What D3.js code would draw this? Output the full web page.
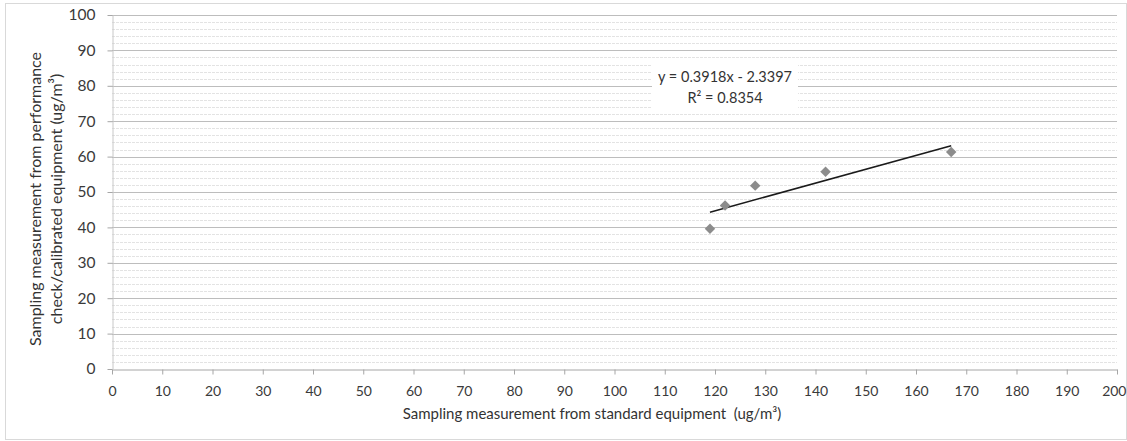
<!DOCTYPE html>
<html><head><meta charset="utf-8">
<script src="https://cdn.jsdelivr.net/npm/d3@7"></script>
<style>
html,body{margin:0;padding:0;background:#fff;}
svg{display:block;font-family:Lato, "Open Sans", sans-serif;}
text{white-space:pre;}
</style></head>
<body>
<svg id="c" width="1127" height="441"></svg>
<script>
const xValues = [119, 122, 128, 142, 167];
const yValues = [39.6, 46.2, 51.8, 55.7, 61.3];
const slope = 0.3918;
const intercept = -2.3397;
const equationText = "y = 0.3918x - 2.3397";
const r2Text = "R² = 0.8354";
const xTicks = d3.range(0, 201, 10);
const yTicks = d3.range(0, 101, 10);
const yMinorTicks = d3.range(0, 101, 2);
const xTitle = "Sampling measurement from standard equipment  (ug/m³)";
const yTitle = ["Sampling measurement from performance", "check/calibrated equipment (ug/m³)"];

const svg = d3.select("#c");
const W = 1127, H = 441;
const m = {left:112, right:1117, top:15, bottom:369};
const x = d3.scaleLinear().domain([0,200]).range([m.left, m.right]);
const y = d3.scaleLinear().domain([0,100]).range([m.bottom, m.top]);

// outer chart border
svg.append("rect").attr("x",5.5).attr("y",3.5).attr("width",W-6).attr("height",H-5)
  .attr("fill","none").attr("stroke","#d9d9d9").attr("stroke-width",1);

// minor gridlines
svg.append("g").selectAll("line").data(yMinorTicks.filter(v=>v%10!==0)).join("line")
  .attr("x1",m.left).attr("x2",m.right).attr("y1",d=>Math.round(y(d))+0.5).attr("y2",d=>Math.round(y(d))+0.5)
  .attr("stroke","#e3e3e3").attr("stroke-width",1).attr("stroke-dasharray","3,1");
// major gridlines
svg.append("g").selectAll("line").data(yTicks.filter(v=>v>0)).join("line")
  .attr("x1",m.left).attr("x2",m.right).attr("y1",d=>Math.round(y(d))+0.5).attr("y2",d=>Math.round(y(d))+0.5)
  .attr("stroke","#bdbdbd").attr("stroke-width",1);

// axes
const xAxis = d3.axisBottom(x).tickValues(xTicks).tickSize(5).tickSizeOuter(0).tickPadding(12);
const gx = svg.append("g").attr("transform",`translate(0,${m.bottom+0.5})`).call(xAxis);
gx.select(".domain").attr("stroke","#a6a6a6");
gx.selectAll(".tick line").attr("stroke","#a6a6a6");
gx.selectAll("text").attr("font-size",14).attr("fill","#3a3a3a").attr("font-family","Lato, sans-serif");
gx.selectAll(".tick").filter(d=>d===200).select("text").attr("text-anchor","end").attr("x",9);

const yAxis = d3.axisLeft(y).tickValues(yTicks).tickSize(5).tickSizeOuter(0).tickPadding(12);
const gy = svg.append("g").attr("transform",`translate(${m.left+0.5},0)`).call(yAxis);
gy.select(".domain").attr("stroke","#c8c8c8");
gy.selectAll(".tick line").attr("stroke","#a6a6a6");
gy.selectAll("text").attr("font-size",15.5).attr("fill","#3a3a3a").attr("font-family","Lato, sans-serif");

// trendline
const xmin = d3.min(xValues), xmax = d3.max(xValues);
svg.append("line").attr("x1",x(xmin)).attr("y1",y(slope*xmin+intercept))
  .attr("x2",x(xmax)).attr("y2",y(slope*xmax+intercept))
  .attr("stroke","#1a1a1a").attr("stroke-width",1.5);

// markers
const pts = xValues.map((v,i)=>[v,yValues[i]]);
svg.append("g").selectAll("path").data(pts).join("path")
  .attr("d", d3.symbol().type(d3.symbolDiamond2).size(70))
  .attr("transform",d=>`translate(${x(d[0])},${y(d[1])})`)
  .attr("fill","#8c8c8c");

// equation label
const lg = svg.append("g");
lg.append("rect").attr("x",652).attr("y",63).attr("width",146).attr("height",47).attr("fill","#fff");
lg.append("text").attr("x",725).attr("y",82).attr("text-anchor","middle").attr("font-size",14.5).attr("fill","#333").text(equationText);
lg.append("text").attr("x",725).attr("y",103).attr("text-anchor","middle").attr("font-size",14.5).attr("fill","#333").text(r2Text);

// titles
svg.append("text").attr("x",592).attr("y",419).attr("text-anchor","middle")
  .attr("font-size",15).attr("fill","#333").text(xTitle);
const yt = svg.append("text").attr("transform",`translate(0,${199}) rotate(-90)`)
  .attr("text-anchor","middle").attr("font-size",16).attr("fill","#333");
yt.selectAll("tspan").data(yTitle).join("tspan").attr("x",0).attr("y",(d,i)=>41+i*21).text(d=>d);
</script>
</body></html>
